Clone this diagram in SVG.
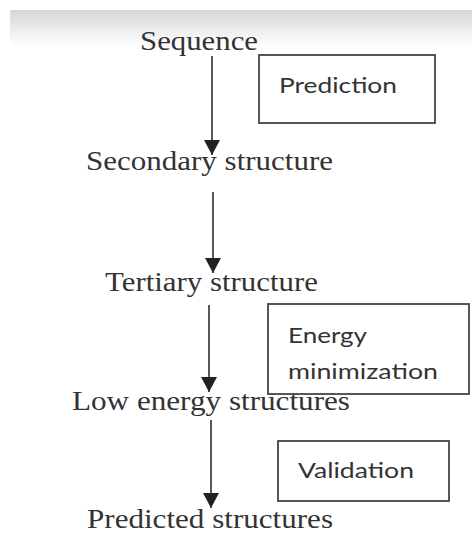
<svg xmlns="http://www.w3.org/2000/svg" width="472" height="533" viewBox="0 0 472 533">
<defs>
<linearGradient id="band" x1="0" y1="0" x2="0" y2="1">
<stop offset="0" stop-color="#d6d6d6"/>
<stop offset="1" stop-color="#ffffff"/>
</linearGradient>
<marker id="ah" markerUnits="userSpaceOnUse" markerWidth="15" markerHeight="16" refX="15" refY="8" orient="auto" viewBox="0 0 15 16">
<path d="M0,0 L15,8 L0,16 Z" fill="#222"/>
</marker>
<style>
.t{font-family:"Liberation Serif","Times New Roman",serif;font-size:28px;fill:#333}
.s{font-family:Lato,"Open Sans",sans-serif;font-size:22px;fill:#333}
.b{fill:none;stroke:#444;stroke-width:1.8}
.c{stroke:#222;stroke-width:1.5;fill:none}
</style>
</defs>
<rect x="0" y="0" width="472" height="533" fill="#ffffff"/>
<rect x="10" y="10" width="462" height="36" fill="url(#band)"/>
<g id="connectors">
<line class="c" x1="212" y1="56" x2="212" y2="155" marker-end="url(#ah)"/>
<line class="c" x1="213" y1="192" x2="213" y2="273" marker-end="url(#ah)"/>
<line class="c" x1="209" y1="305" x2="209" y2="392" marker-end="url(#ah)"/>
<line class="c" x1="211" y1="420" x2="211" y2="508" marker-end="url(#ah)"/>
</g>
<g id="sequence"><text class="t" x="140" y="50" textLength="118" lengthAdjust="spacingAndGlyphs">Sequence</text></g>
<g id="secondary"><text class="t" x="86" y="170" textLength="247" lengthAdjust="spacingAndGlyphs">Secondary structure</text></g>
<g id="tertiary"><text class="t" x="105" y="291" textLength="213" lengthAdjust="spacingAndGlyphs">Tertiary structure</text></g>
<g id="lowenergy"><text class="t" x="72" y="410" textLength="278" lengthAdjust="spacingAndGlyphs">Low energy structures</text></g>
<g id="predicted"><text class="t" x="87" y="528" textLength="246" lengthAdjust="spacingAndGlyphs">Predicted structures</text></g>
<g id="prediction"><rect class="b" x="259" y="55" width="176" height="68"/><text class="s" x="279" y="93" textLength="118" lengthAdjust="spacingAndGlyphs">Prediction</text></g>
<g id="energymin"><rect class="b" x="268" y="304" width="201" height="90"/><text class="s" x="288" y="343" textLength="79" lengthAdjust="spacingAndGlyphs">Energy</text><text class="s" x="288" y="379" textLength="150" lengthAdjust="spacingAndGlyphs">minimization</text></g>
<g id="validation"><rect class="b" x="278" y="441" width="171" height="60"/><text class="s" x="298" y="478" textLength="116" lengthAdjust="spacingAndGlyphs">Validation</text></g>
</svg>
